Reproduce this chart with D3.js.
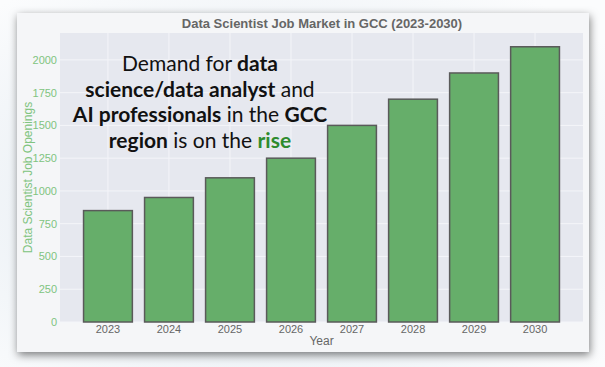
<!DOCTYPE html>
<html>
<head>
<meta charset="utf-8">
<script src="https://cdn.jsdelivr.net/npm/d3@7"></script>
<style>
  html, body { margin: 0; padding: 0; background: #ffffff; }
  svg { display: block; }
</style>
</head>
<body>
<svg id="chart" width="605" height="367"></svg>
<script>
const years = ['2023', '2024', '2025', '2026', '2027', '2028', '2029', '2030'];
const openings = [850, 950, 1100, 1250, 1500, 1700, 1900, 2100];
const yTicks = [0, 250, 500, 750, 1000, 1250, 1500, 1750, 2000];
const headline = [
  [['Demand for ', 400], ['data', 700]],
  [['science/data analyst', 700], [' and', 400]],
  [['AI professionals', 700], [' in the ', 400], ['GCC', 700]],
  [['region', 700], [' is on the ', 400], ['rise', 700, '#2e8b2e']]
];

const W = 605, H = 367;
const card = { x: 17, y: 13, w: 572, h: 339 };
const plot = { left: 60, top: 33, right: 583, bottom: 322 };

const svg = d3.select('#chart');
const defs = svg.append('defs');

const shadow = defs.append('filter').attr('id', 'shadow')
  .attr('x', '-10%').attr('y', '-10%').attr('width', '120%').attr('height', '125%');
shadow.append('feDropShadow')
  .attr('dx', 1).attr('dy', 3).attr('stdDeviation', 4)
  .attr('flood-color', '#000').attr('flood-opacity', 0.5);

const bgGrad = defs.append('radialGradient').attr('id', 'bgGrad')
  .attr('cx', '0.45').attr('cy', '0.55').attr('r', '0.7');
bgGrad.append('stop').attr('offset', '0%').attr('stop-color', '#dde6ee');
bgGrad.append('stop').attr('offset', '100%').attr('stop-color', '#fbfcfd');

// page background
svg.append('rect').attr('width', W).attr('height', H).attr('fill', 'url(#bgGrad)');

// card
svg.append('rect')
  .attr('x', card.x).attr('y', card.y)
  .attr('width', card.w).attr('height', card.h)
  .attr('fill', '#f5f6f8')
  .attr('filter', 'url(#shadow)');

const x = d3.scaleBand()
  .domain(years)
  .range([plot.left, plot.right])
  .paddingInner(0.2)
  .paddingOuter(0.386);

const y = d3.scaleLinear()
  .domain([0, 2205])
  .range([plot.bottom, plot.top]);

// plot background
svg.append('rect')
  .attr('x', plot.left).attr('y', plot.top)
  .attr('width', plot.right - plot.left)
  .attr('height', plot.bottom - plot.top)
  .attr('fill', '#e6e8ef');

// grid
svg.append('g')
  .selectAll('line')
  .data(yTicks)
  .join('line')
  .attr('x1', plot.left).attr('x2', plot.right)
  .attr('y1', (d) => y(d)).attr('y2', (d) => y(d))
  .attr('stroke', '#f4f5f9').attr('stroke-width', 1);

svg.append('g')
  .selectAll('line')
  .data(years)
  .join('line')
  .attr('x1', (d) => x(d) + x.bandwidth() / 2)
  .attr('x2', (d) => x(d) + x.bandwidth() / 2)
  .attr('y1', plot.top).attr('y2', plot.bottom)
  .attr('stroke', '#f4f5f9').attr('stroke-width', 1);

// bars
svg.append('g')
  .selectAll('rect')
  .data(years)
  .join('rect')
  .attr('x', (d) => x(d))
  .attr('y', (d, i) => y(openings[i]))
  .attr('width', x.bandwidth())
  .attr('height', (d, i) => y(0) - y(openings[i]))
  .attr('fill', '#66ae6a')
  .attr('stroke', '#5a5a5a')
  .attr('stroke-width', 1.5);

// y axis
const yAxis = svg.append('g')
  .attr('transform', `translate(${plot.left},0)`)
  .call(d3.axisLeft(y).tickValues(yTicks).tickFormat(d3.format('d')).tickSize(0).tickPadding(3));
yAxis.select('.domain').remove();
yAxis.selectAll('text')
  .attr('fill', '#80c480')
  .style('font-family', 'Liberation Sans, Arial, sans-serif')
  .style('font-size', '11px');

// x axis
const xAxis = svg.append('g')
  .attr('transform', `translate(0,${plot.bottom})`)
  .call(d3.axisBottom(x).tickSize(0).tickPadding(3));
xAxis.select('.domain').remove();
xAxis.selectAll('text')
  .attr('fill', '#666')
  .style('font-family', 'Liberation Sans, Arial, sans-serif')
  .style('font-size', '11px');

// axis titles
svg.append('text')
  .attr('x', (plot.left + plot.right) / 2)
  .attr('y', 345)
  .attr('text-anchor', 'middle')
  .attr('fill', '#666')
  .style('font-family', 'Liberation Sans, Arial, sans-serif')
  .style('font-size', '12px')
  .text('Year');

svg.append('text')
  .attr('transform', `translate(32,${(plot.top + plot.bottom) / 2}) rotate(-90)`)
  .attr('text-anchor', 'middle')
  .attr('fill', '#80c480')
  .style('font-family', 'Liberation Sans, Arial, sans-serif')
  .style('font-size', '12px')
  .text('Data Scientist Job Openings');

// title
svg.append('text')
  .attr('x', 322)
  .attr('y', 28)
  .attr('text-anchor', 'middle')
  .attr('fill', '#666')
  .style('font-family', 'Liberation Sans, Arial, sans-serif')
  .style('font-size', '13px')
  .style('font-weight', 'bold')
  .text('Data Scientist Job Market in GCC (2023-2030)');

// headline overlay
const head = svg.append('text')
  .attr('text-anchor', 'middle')
  .attr('fill', '#111')
  .style('font-family', 'Lato, Inter, sans-serif')
  .style('font-size', '21px');
headline.forEach((line, i) => {
  const t = head.append('tspan').attr('x', 200).attr('y', 71 + i * 25.5);
  line.forEach(([txt, w, c]) => {
    t.append('tspan')
      .style('font-weight', w)
      .attr('fill', c || '#111')
      .text(txt);
  });
});
</script>
</body>
</html>
